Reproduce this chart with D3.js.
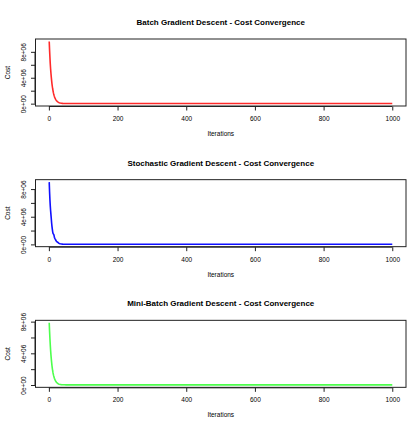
<!DOCTYPE html>
<html><head><meta charset="utf-8">
<script src="https://cdn.jsdelivr.net/npm/d3@7"></script>
<style>body{margin:0;background:#fff}svg{display:block;font-family:"Liberation Sans",Arial,sans-serif}</style>
</head><body>
<svg id="c" width="412" height="422"></svg>
<script>
const titles = ["Batch Gradient Descent - Cost Convergence","Stochastic Gradient Descent - Cost Convergence","Mini-Batch Gradient Descent - Cost Convergence"];
const colors = ["#ff2a2a","#1010ff","#4dff4d"];
const iterations = [1,2,3,4,5,6,7,8,9,10,11,12,13,14,15,16,17,18,19,20,22,24,26,28,30,33,36,40,45,50,1000];
const batchCost = [9.6e6,8.3e6,7.2e6,6.2e6,5.4e6,4.7e6,4.1e6,3.55e6,3.05e6,2.65e6,2.3e6,2.0e6,1.72e6,1.5e6,1.3e6,1.12e6,0.97e6,0.84e6,0.73e6,0.63e6,0.47e6,0.36e6,0.27e6,0.2e6,0.15e6,0.1e6,0.07e6,0.04e6,0.025e6,0.02e6,0.02e6];
const sgdCost = [9.0e6,7.6e6,6.5e6,5.6e6,4.9e6,4.3e6,3.7e6,3.1e6,2.6e6,2.2e6,1.85e6,1.6e6,1.5e6,1.45e6,1.3e6,1.05e6,0.9e6,0.8e6,0.72e6,0.6e6,0.45e6,0.35e6,0.3e6,0.2e6,0.14e6,0.09e6,0.06e6,0.04e6,0.03e6,0.03e6,0.03e6];
const miniCost = [7.85e6,6.8e6,5.9e6,5.1e6,4.4e6,3.8e6,3.3e6,2.85e6,2.45e6,2.1e6,1.8e6,1.55e6,1.35e6,1.15e6,1.0e6,0.86e6,0.74e6,0.64e6,0.55e6,0.47e6,0.35e6,0.26e6,0.19e6,0.14e6,0.1e6,0.07e6,0.05e6,0.03e6,0.025e6,0.02e6,0.02e6];
const xTicks = [0,200,400,600,800,1000];
const yTicks = [0,2e6,4e6,6e6,8e6];
const yTickLabels = {0:"0e+00",4000000:"4e+06",8000000:"8e+06"};
const series = [batchCost, sgdCost, miniCost];

const svg = d3.select("#c");
const panelH = 422/3;
const L = 35.5, R = 406, T = 39, B = 106;

series.forEach((cost, i) => {
  const g = svg.append("g").attr("transform", `translate(0,${i*panelH})`);
  const xmin = d3.min(iterations), xmax = d3.max(iterations);
  const xpad = (xmax - xmin)*0.04;
  const x = d3.scaleLinear().domain([xmin - xpad, xmax + xpad]).range([L, R]);
  const ymin = d3.min(cost), ymax = d3.max(cost);
  const ypad = (ymax - ymin)*0.04;
  const y = d3.scaleLinear().domain([ymin - ypad, ymax + ypad]).range([B, T]);

  g.append("path")
    .datum(iterations.map((it, k) => [it, cost[k]]))
    .attr("fill","none").attr("stroke", colors[i]).attr("stroke-width", 1.6)
    .attr("stroke-linejoin","round")
    .attr("d", d3.line().x(d => x(d[0])).y(d => y(d[1])));

  g.append("rect").attr("x", L).attr("y", T).attr("width", R-L).attr("height", B-T)
    .attr("fill","none").attr("stroke","#222").attr("stroke-width",1);

  const xa = g.append("g").attr("transform", `translate(0,${B+0.5})`)
    .call(d3.axisBottom(x).tickValues(xTicks).tickSize(4).tickPadding(6).tickFormat(d3.format("d")));
  xa.select(".domain").attr("d", `M${x(0)},0H${x(1000)}`).attr("stroke","#222");
  xa.selectAll("text").attr("font-size", 6.5).attr("font-family","Liberation Sans, Arial, sans-serif").attr("fill","#000");
  xa.selectAll("line").attr("stroke","#222");

  const ya = g.append("g").attr("transform", `translate(${L-0.5},0)`)
    .call(d3.axisLeft(y).tickValues(yTicks).tickSize(4).tickFormat(d => yTickLabels[d] || ""));
  ya.select(".domain").attr("d", `M0,${y(0)}V${y(8e6)}`).attr("stroke","#222");
  ya.selectAll("line").attr("stroke","#222");
  ya.selectAll(".tick text").attr("font-size", 6.5).attr("font-family","Liberation Sans, Arial, sans-serif").attr("fill","#000")
    .attr("x", null).attr("y", null).attr("dy", null)
    .attr("text-anchor","middle").attr("dominant-baseline","middle")
    .attr("transform", "translate(-11,0) rotate(-90)");

  g.append("text").attr("x", (L+R)/2).attr("y", 25).attr("text-anchor","middle")
    .attr("font-size", 8).attr("font-weight","bold").text(titles[i]);
  g.append("text").attr("x", (L+R)/2).attr("y", 136).attr("text-anchor","middle")
    .attr("font-size", 6.5).text("Iterations");
  g.append("text").attr("transform", `translate(10,${(T+B)/2}) rotate(-90)`).attr("text-anchor","middle")
    .attr("font-size", 6.5).text("Cost");
});
</script>
</body></html>
